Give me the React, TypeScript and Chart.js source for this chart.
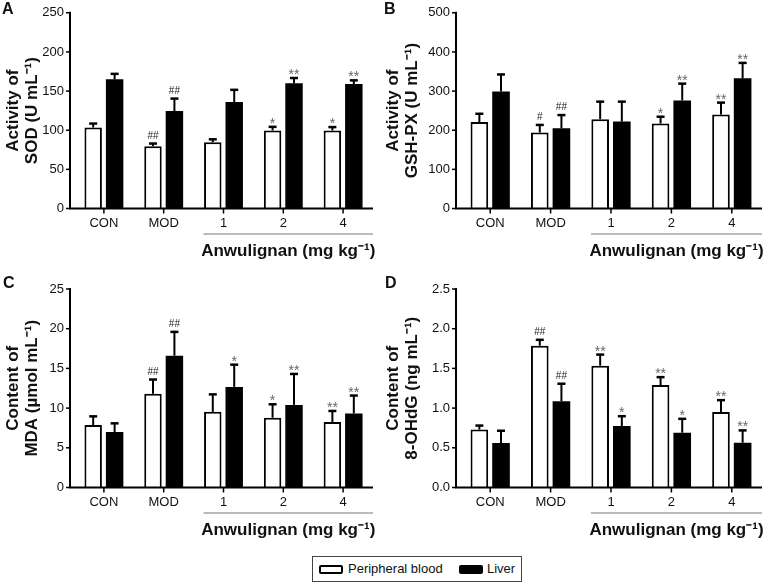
import React, { useEffect, useRef } from 'react';
import { Chart, registerables } from 'chart.js';

Chart.register(...registerables);

const FONT = '"Liberation Sans", Arial, Helvetica, sans-serif';

// ---------- data ----------
const categories = ['CON', 'MOD', '1', '2', '4'];
const seriesNames = ['Peripheral blood', 'Liver'];
const xTitle = 'Anwulignan (mg kg⁻¹)';

// A: SOD
const sodBlood = [103.4, 79.6, 84.6, 99.7, 99.7];
const sodBloodErr = [5.1, 3.4, 3.8, 4.6, 4.3];
const sodBloodSig = ['', '##', '', '*', '*'];
const sodLiver = [165, 124.4, 136, 160, 159];
const sodLiverErr = [7, 16, 15.6, 6.7, 4.7];
const sodLiverSig = ['', '##', '', '**', '**'];

// B: GSH-PX
const gshBlood = [221, 194, 228, 217, 240];
const gshBloodErr = [21, 19.5, 45, 17.5, 30.5];
const gshBloodSig = ['', '#', '', '*', '**'];
const gshLiver = [299, 205, 222, 276, 332.5];
const gshLiverErr = [43.5, 33.7, 51, 43, 39.5];
const gshLiverSig = ['', '##', '', '**', '**'];

// C: MDA
const mdaBlood = [7.86, 11.8, 9.53, 8.78, 8.24];
const mdaBloodErr = [1.1, 1.8, 2.2, 1.7, 1.4];
const mdaBloodSig = ['', '##', '', '*', '**'];
const mdaLiver = [6.98, 16.6, 12.67, 10.4, 9.32];
const mdaLiverErr = [1.1, 3.0, 2.8, 3.9, 2.26];
const mdaLiverSig = ['', '##', '*', '**', '**'];

// D: 8-OHdG
const ohdgBlood = [0.73, 1.785, 1.534, 1.29, 0.95];
const ohdgBloodErr = [0.05, 0.075, 0.14, 0.1, 0.15];
const ohdgBloodSig = ['', '##', '**', '**', '**'];
const ohdgLiver = [0.56, 1.087, 0.773, 0.69, 0.564];
const ohdgLiverErr = [0.155, 0.22, 0.125, 0.175, 0.155];
const ohdgLiverSig = ['', '##', '*', '*', '**'];

// y axis tick settings
const sodTicks = { max: 250, step: 50, decimals: 0 };
const gshTicks = { max: 500, step: 100, decimals: 0 };
const mdaTicks = { max: 25, step: 5, decimals: 0 };
const ohdgTicks = { max: 2.5, step: 0.5, decimals: 1 };

type Panel = {
  id: string;
  letter: string;
  cl: number; ct: number; cw: number; ch: number;
  area: { l: number; r: number; t: number; b: number };
  ticks: { max: number; step: number; decimals: number };
  yTitle: string[];
  vals: number[][];
  errs: number[][];
  sigs: string[][];
};

const panels: Panel[] = [
  {
    id: 'A', letter: 'A', cl: 0, ct: 0, cw: 380, ch: 270,
    area: { l: 74, r: 373, t: 10, b: 208.5 },
    ticks: sodTicks, yTitle: ['Activity of', 'SOD (U mL⁻¹)'],
    vals: [sodBlood, sodLiver], errs: [sodBloodErr, sodLiverErr], sigs: [sodBloodSig, sodLiverSig],
  },
  {
    id: 'B', letter: 'B', cl: 380, ct: 0, cw: 385, ch: 270,
    area: { l: 460, r: 762, t: 10, b: 208.5 },
    ticks: gshTicks, yTitle: ['Activity of', 'GSH-PX (U mL⁻¹)'],
    vals: [gshBlood, gshLiver], errs: [gshBloodErr, gshLiverErr], sigs: [gshBloodSig, gshLiverSig],
  },
  {
    id: 'C', letter: 'C', cl: 0, ct: 270, cw: 380, ch: 285,
    area: { l: 74, r: 373, t: 289, b: 487.5 },
    ticks: mdaTicks, yTitle: ['Content of', 'MDA (µmol mL⁻¹)'],
    vals: [mdaBlood, mdaLiver], errs: [mdaBloodErr, mdaLiverErr], sigs: [mdaBloodSig, mdaLiverSig],
  },
  {
    id: 'D', letter: 'D', cl: 380, ct: 270, cw: 385, ch: 285,
    area: { l: 460, r: 762, t: 289, b: 487.5 },
    ticks: ohdgTicks, yTitle: ['Content of', '8-OHdG (ng mL⁻¹)'],
    vals: [ohdgBlood, ohdgLiver], errs: [ohdgBloodErr, ohdgLiverErr], sigs: [ohdgBloodSig, ohdgLiverSig],
  },
];

function PanelChart({ p }: { p: Panel }) {
  const ref = useRef<HTMLCanvasElement | null>(null);
  useEffect(() => {
    if (!ref.current) return;
    const yW = p.area.l - p.cl;
    const xH = p.ct + p.ch - p.area.b;
    const padTop = p.area.t - p.ct;
    const padRight = p.cl + p.cw - p.area.r;

    const deco = {
      id: 'deco' + p.id,
      afterDatasetsDraw(chart: any) {
        const { ctx, chartArea: a, scales } = chart;
        const xs = scales.x;
        const ys = scales.y;
        ctx.save();
        // error bars + significance marks
        for (let d = 0; d < 2; d++) {
          const meta = chart.getDatasetMeta(d);
          meta.data.forEach((el: any, i: number) => {
            const v = p.vals[d][i];
            const top = ys.getPixelForValue(v);
            const capY = ys.getPixelForValue(v + p.errs[d][i]);
            ctx.strokeStyle = '#000';
            ctx.lineWidth = 2;
            ctx.beginPath();
            ctx.moveTo(el.x, top);
            ctx.lineTo(el.x, capY);
            ctx.stroke();
            ctx.lineWidth = 2.5;
            ctx.beginPath();
            ctx.moveTo(el.x - 4, capY);
            ctx.lineTo(el.x + 4, capY);
            ctx.stroke();
            const s = p.sigs[d][i];
            if (s) {
              ctx.textAlign = 'center';
              ctx.textBaseline = 'alphabetic';
              if (s.includes('#')) {
                ctx.font = `10px ${FONT}`;
                ctx.fillStyle = '#222';
                ctx.fillText(s, el.x, capY - 5);
              } else {
                ctx.font = `14px ${FONT}`;
                ctx.fillStyle = '#666';
                ctx.fillText(s, el.x, capY + 1);
              }
            }
          });
        }
        // axes
        const ax = a.left - 4;
        ctx.strokeStyle = '#000';
        ctx.lineWidth = 2;
        ctx.beginPath();
        ctx.moveTo(ax, a.top - 1);
        ctx.lineTo(ax, a.bottom);
        ctx.lineTo(a.right, a.bottom);
        ctx.stroke();
        ctx.lineWidth = 1.5;
        ys.ticks.forEach((t: any) => {
          const y = ys.getPixelForValue(t.value);
          ctx.beginPath();
          ctx.moveTo(ax - 4, y);
          ctx.lineTo(ax, y);
          ctx.stroke();
        });
        categories.forEach((_c, i) => {
          const x = xs.getPixelForValue(i);
          ctx.beginPath();
          ctx.moveTo(x, a.bottom);
          ctx.lineTo(x, a.bottom + 5);
          ctx.stroke();
        });
        // bracket and group title
        const bx0 = xs.getPixelForValue(2) - 20;
        const bx1 = a.right;
        ctx.strokeStyle = '#777';
        ctx.lineWidth = 1;
        ctx.beginPath();
        ctx.moveTo(bx0, a.bottom + 25.5);
        ctx.lineTo(bx1, a.bottom + 25.5);
        ctx.stroke();
        ctx.fillStyle = '#111';
        ctx.font = `bold 17px ${FONT}`;
        ctx.textAlign = 'center';
        ctx.textBaseline = 'middle';
        ctx.fillText(xTitle, (bx0 + bx1) / 2, a.bottom + 43);
        ctx.restore();
      },
    };

    const chart = new Chart(ref.current, {
      type: 'bar',
      data: {
        labels: categories,
        datasets: [
          {
            label: seriesNames[0],
            data: p.vals[0],
            backgroundColor: '#fff',
            borderColor: '#000',
            borderWidth: 2,
            categoryPercentage: 0.717,
            barPercentage: 0.814,
          },
          {
            label: seriesNames[1],
            data: p.vals[1],
            backgroundColor: '#000',
            borderColor: '#000',
            borderWidth: 0,
            categoryPercentage: 0.717,
            barPercentage: 0.814,
          },
        ],
      },
      options: {
        animation: false,
        responsive: false,
        maintainAspectRatio: false,
        layout: { padding: { top: padTop, right: padRight, left: 0, bottom: 0 } },
        plugins: { legend: { display: false }, tooltip: { enabled: false } },
        scales: {
          x: {
            type: 'category',
            offset: true,
            grid: { display: true, drawOnChartArea: false, offset: false, color: 'transparent', tickLength: 4 },
            border: { display: false },
            ticks: { color: '#111', font: { family: FONT, size: 13 }, padding: 3, maxRotation: 0, autoSkip: false },
            afterFit: (s: any) => { s.height = xH; },
          },
          y: {
            min: 0,
            max: p.ticks.max,
            grid: { display: true, drawOnChartArea: false, color: 'transparent', tickLength: 5 },
            border: { display: false },
            ticks: {
              stepSize: p.ticks.step,
              color: '#111',
              font: { family: FONT, size: 13 },
              padding: 5,
              callback: (v: any) => Number(v).toFixed(p.ticks.decimals),
            },
            title: {
              display: true,
              text: p.yTitle,
              color: '#111',
              font: { family: FONT, size: 17, weight: 'bold', lineHeight: 1.12 },
              padding: { top: 3.5, bottom: 0 },
            },
            afterFit: (s: any) => { s.width = yW; },
          },
        },
      } as any,
      plugins: [deco],
    });
    return () => chart.destroy();
  }, [p]);

  return (
    <canvas
      ref={ref}
      width={p.cw}
      height={p.ch}
      style={{ position: 'absolute', left: p.cl, top: p.ct, width: p.cw, height: p.ch }}
    />
  );
}

const letterPos: Record<string, { left: number; top: number }> = {
  A: { left: 2, top: 0 },
  B: { left: 384, top: 0 },
  C: { left: 3, top: 273.5 },
  D: { left: 385, top: 273.5 },
};

export default function App() {
  return (
    <div style={{ position: 'absolute', left: 0, top: 0, width: 765, height: 582, background: '#fff', fontFamily: FONT, overflow: 'hidden' }}>
      {panels.map((p) => (
        <PanelChart key={p.id} p={p} />
      ))}
      {panels.map((p) => (
        <div
          key={'l' + p.id}
          style={{ position: 'absolute', left: letterPos[p.letter].left, top: letterPos[p.letter].top, fontWeight: 'bold', fontSize: 16, color: '#111' }}
        >
          {p.letter}
        </div>
      ))}
      <div
        style={{ position: 'absolute', left: 312, top: 556, width: 210, height: 26, border: '1px solid #444', boxSizing: 'border-box', fontSize: 13, color: '#111' }}
      >
        <div style={{ position: 'absolute', left: 6, top: 8, width: 24, height: 9, border: '2px solid #000', borderRadius: 2, boxSizing: 'border-box', background: '#fff' }} />
        <div style={{ position: 'absolute', left: 35, top: 4, lineHeight: '15px', whiteSpace: 'nowrap' }}>{seriesNames[0]}</div>
        <div style={{ position: 'absolute', left: 146, top: 8, width: 24, height: 9, borderRadius: 2, background: '#000' }} />
        <div style={{ position: 'absolute', left: 174, top: 4, lineHeight: '15px', whiteSpace: 'nowrap' }}>{seriesNames[1]}</div>
      </div>
    </div>
  );
}
